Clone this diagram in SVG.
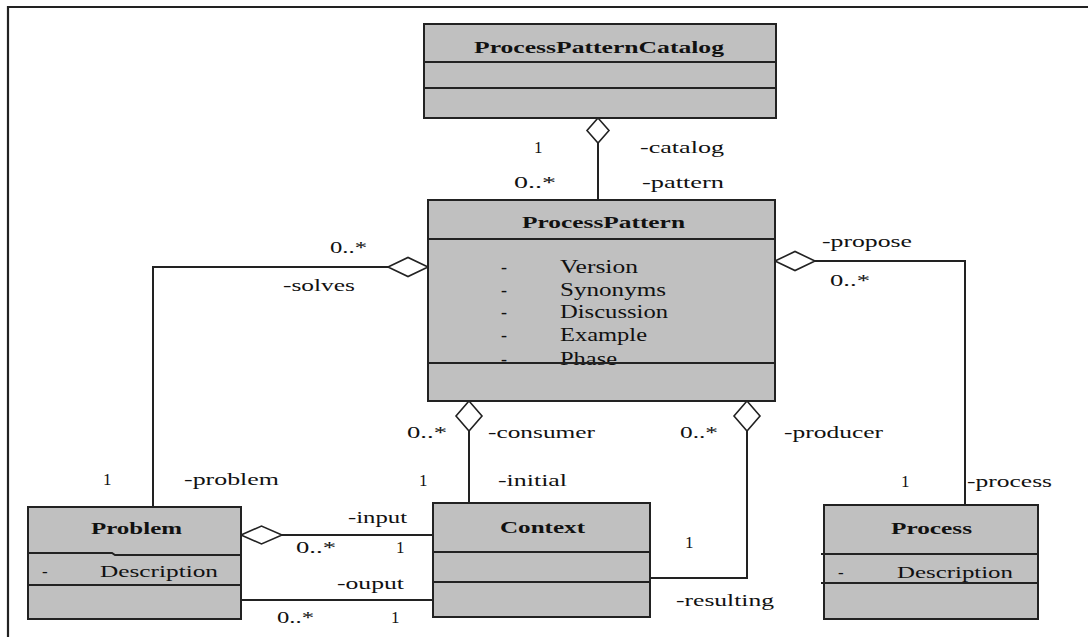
<svg xmlns="http://www.w3.org/2000/svg" width="1088" height="637" viewBox="0 0 1088 637">
<style>
.box{fill:#c0c0c0;stroke:#222;stroke-width:2}
.div{fill:none;stroke:#222;stroke-width:2}
.ln{fill:none;stroke:#222;stroke-width:2}
.dia{fill:#fff;stroke:#222;stroke-width:1.6}
text{font-family:"Liberation Serif","Times New Roman",serif;fill:#111}
.t{font-size:17px;font-weight:bold}
.l{font-size:17px}
.a{font-size:18px}
</style>
<rect width="1088" height="637" fill="#fff"/>
<path d="M8,637 V7 H1088" fill="none" stroke="#222" stroke-width="2.2"/>

<g id="connectors">
  <path class="ln" d="M598,143 V200"/>
  <polygon class="dia" points="598,118 609,130.5 598,143 587,130.5"/>
  <path class="ln" d="M388,267 H153 V507"/>
  <polygon class="dia" points="428,267 408,257.5 388,267 408,276.5"/>
  <path class="ln" d="M815,261 H965 V505"/>
  <polygon class="dia" points="775,261 795,251.5 815,261 795,270.5"/>
  <path class="ln" d="M469,431 V503"/>
  <polygon class="dia" points="469,401 482,416 469,431 456,416"/>
  <path class="ln" d="M747,431 V578 H650"/>
  <polygon class="dia" points="747,401 760,416 747,431 734,416"/>
  <path class="ln" d="M282,535 H433"/>
  <polygon class="dia" points="241,535 261.5,526 282,535 261.5,544"/>
  <path class="ln" d="M241,600 H433"/>

  <text class="l" x="534" y="153">1</text>
  <text class="l" x="640" y="153" textLength="84" lengthAdjust="spacingAndGlyphs">-catalog</text>
  <text class="l" x="514" y="188" textLength="42" lengthAdjust="spacingAndGlyphs">0..*</text>
  <text class="l" x="642" y="188" textLength="82" lengthAdjust="spacingAndGlyphs">-pattern</text>
  <text class="l" x="330" y="253" textLength="37" lengthAdjust="spacingAndGlyphs">0..*</text>
  <text class="l" x="283" y="291" textLength="72" lengthAdjust="spacingAndGlyphs">-solves</text>
  <text class="l" x="822" y="247" textLength="90" lengthAdjust="spacingAndGlyphs">-propose</text>
  <text class="l" x="830" y="286" textLength="40" lengthAdjust="spacingAndGlyphs">0..*</text>
  <text class="l" x="407" y="438" textLength="40" lengthAdjust="spacingAndGlyphs">0..*</text>
  <text class="l" x="488" y="438" textLength="107" lengthAdjust="spacingAndGlyphs">-consumer</text>
  <text class="l" x="680" y="438" textLength="38" lengthAdjust="spacingAndGlyphs">0..*</text>
  <text class="l" x="784" y="438" textLength="99" lengthAdjust="spacingAndGlyphs">-producer</text>
  <text class="l" x="103" y="485">1</text>
  <text class="l" x="184" y="485" textLength="95" lengthAdjust="spacingAndGlyphs">-problem</text>
  <text class="l" x="419" y="486">1</text>
  <text class="l" x="498" y="486" textLength="69" lengthAdjust="spacingAndGlyphs">-initial</text>
  <text class="l" x="901" y="487">1</text>
  <text class="l" x="967" y="487" textLength="85" lengthAdjust="spacingAndGlyphs">-process</text>
  <text class="l" x="348" y="523" textLength="59" lengthAdjust="spacingAndGlyphs">-input</text>
  <text class="l" x="296" y="553" textLength="40" lengthAdjust="spacingAndGlyphs">0..*</text>
  <text class="l" x="396" y="553">1</text>
  <text class="l" x="337" y="589" textLength="67" lengthAdjust="spacingAndGlyphs">-ouput</text>
  <text class="l" x="277" y="623" textLength="37" lengthAdjust="spacingAndGlyphs">0..*</text>
  <text class="l" x="391" y="623">1</text>
  <text class="l" x="685" y="548">1</text>
  <text class="l" x="676" y="606" textLength="98" lengthAdjust="spacingAndGlyphs">-resulting</text>
</g>

<g id="ProcessPatternCatalog">
  <rect class="box" x="424" y="24" width="352" height="94"/>
  <path class="div" d="M424,62 H776 M424,88 H776"/>
  <text class="t" x="474" y="53" textLength="250" lengthAdjust="spacingAndGlyphs">ProcessPatternCatalog</text>
</g>

<g id="ProcessPattern">
  <rect class="box" x="428" y="200" width="347" height="201"/>
  <path class="div" d="M428,239 H775"/>
  <text class="t" x="522" y="228" textLength="163" lengthAdjust="spacingAndGlyphs">ProcessPattern</text>
  <text class="a" x="501" y="273">-</text>
  <text class="a" x="560" y="273" textLength="78" lengthAdjust="spacingAndGlyphs">Version</text>
  <text class="a" x="501" y="296">-</text>
  <text class="a" x="560" y="296" textLength="106" lengthAdjust="spacingAndGlyphs">Synonyms</text>
  <text class="a" x="501" y="318">-</text>
  <text class="a" x="560" y="318" textLength="108" lengthAdjust="spacingAndGlyphs">Discussion</text>
  <text class="a" x="501" y="341">-</text>
  <text class="a" x="560" y="341" textLength="87" lengthAdjust="spacingAndGlyphs">Example</text>
  <text class="a" x="501" y="365">-</text>
  <text class="a" x="560" y="365" textLength="57" lengthAdjust="spacingAndGlyphs">Phase</text>
  <path class="div" d="M428,363 H775"/>
</g>

<g id="Problem">
  <rect class="box" x="28" y="507" width="213" height="112"/>
  <path class="div" d="M28,553 H112 L115,555 H241 M28,585 H241"/>
  <text class="t" x="91" y="534" textLength="91" lengthAdjust="spacingAndGlyphs">Problem</text>
  <text class="l" x="42" y="577">-</text>
  <text class="l" x="100" y="577" textLength="118" lengthAdjust="spacingAndGlyphs">Description</text>
</g>

<g id="Context">
  <rect class="box" x="433" y="503" width="217" height="114"/>
  <path class="div" d="M433,552 H650 M433,582 H650"/>
  <text class="t" x="500" y="533" textLength="85" lengthAdjust="spacingAndGlyphs">Context</text>
</g>

<g id="Process">
  <rect class="box" x="824" y="505" width="214" height="114"/>
  <path class="div" d="M821,554 H1038 M821,583 H1038"/>
  <text class="t" x="891" y="534" textLength="81" lengthAdjust="spacingAndGlyphs">Process</text>
  <text class="l" x="838" y="578">-</text>
  <text class="l" x="897" y="578" textLength="116" lengthAdjust="spacingAndGlyphs">Description</text>
</g>
</svg>
